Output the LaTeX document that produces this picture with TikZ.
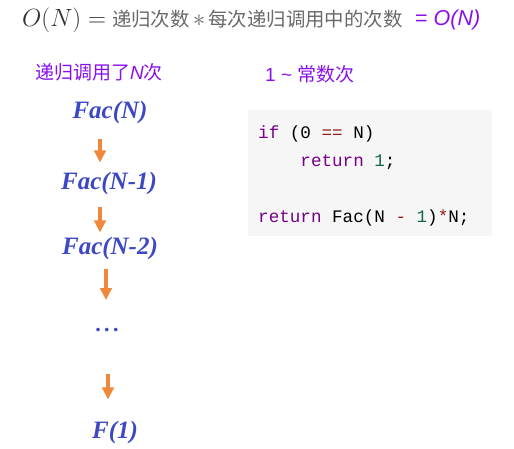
\documentclass[tikz,border=0pt]{standalone}
\usepackage{fontspec}
\newfontfamily\cjk{Noto Sans CJK SC}
\newfontfamily\facfont{Liberation Serif}
\newfontfamily\sansfont{Liberation Sans}
\newfontfamily\codefont{Liberation Mono}
\usetikzlibrary{arrows.meta}
\definecolor{facblue}{RGB}{60,72,196}
\definecolor{floworange}{RGB}{240,136,60}
\definecolor{notepurple}{RGB}{138,16,232}
\definecolor{titlegray}{RGB}{105,105,105}
\definecolor{mathgray}{RGB}{50,50,50}
\definecolor{codebg}{RGB}{246,246,246}
\definecolor{kwpurple}{RGB}{119,0,136}
\definecolor{opred}{RGB}{152,26,26}
\definecolor{numgreen}{RGB}{17,102,68}
\tikzset{
  fac/.style={font=\fontsize{25}{30}\selectfont\facfont\bfseries\itshape,text=facblue,inner sep=0pt},
  note/.style={font=\fontsize{19}{23}\selectfont\cjk,text=notepurple,inner sep=0pt,anchor=west},
  codeline/.style={font=\fontsize{17.6}{21}\selectfont\codefont,inner sep=0pt,anchor=base west},
  flow/.style={draw=floworange,line width=3.4pt,-{Triangle[length=12pt,width=11.5pt]}}
}
\newcommand{\kw}[1]{\textcolor{kwpurple}{#1}}
\newcommand{\op}[1]{\textcolor{opred}{#1}}
\newcommand{\num}[1]{\textcolor{numgreen}{#1}}
\begin{document}
\begin{tikzpicture}[x=1pt,y=-1pt]
  \useasboundingbox (0,0) rectangle (514,449);
  \node[inner sep=0pt,anchor=west,font=\fontsize{23}{27}\selectfont] (title) at (22,20)
    {\textcolor{mathgray}{$O(N) =$}\hspace{6pt}\textcolor{titlegray}{\fontsize{19.4}{23}\selectfont\cjk 递归次数\,{\fontsize{26}{30}\selectfont$\ast$}\,每次递归调用中的次数}};
  \node[note,font=\fontsize{21.5}{25}\selectfont\sansfont] (result) at (415,20) {= \itshape O(N)};
  \node[note] (calls) at (35,72) {递归调用了{\sansfont\itshape N}次};
  \node[note] (const) at (265,74) {{\sansfont 1 \textasciitilde{} }常数次};
  \fill[codebg] (248,110) rectangle (492,236);
  \node[codeline] (code1) at (258,139) {\kw{if} (0 \op{==} N)};
  \node[codeline] (code2) at (258,167) {\phantom{xxxx}\kw{return} \num{1};};
  \node[codeline] (code3) at (258,223) {\kw{return} Fac(N \op{-} \num{1})\op{*}N;};
  \node[fac] (facN) at (110,112) {Fac(N)};
  \node[fac] (facN1) at (109,183) {Fac(N-1)};
  \node[fac] (facN2) at (110,248) {Fac(N-2)};
  \node[fac,font=\fontsize{22}{26}\selectfont\facfont\bfseries] (dots) at (107,330) {.\hspace{3.5pt}.\hspace{3.5pt}.};
  \node[fac] (fone) at (115,432) {F(1)};
  \draw[flow,shorten <=15pt,shorten >=9pt] ([xshift=-10pt]facN.south) -- ([xshift=-9pt]facN1.north);
  \draw[flow,shorten <=12pt,shorten >=4pt] ([xshift=-9pt]facN1.south) -- ([xshift=-10pt]facN2.north);
  \draw[flow,shorten <=9pt,shorten >=28pt] ([xshift=-4pt]facN2.south) -- ([xshift=-1pt]dots.north);
  \draw[flow,shorten <=42pt,shorten >=21pt] ([xshift=1pt]dots.south) -- ([xshift=-7pt]fone.north);
\end{tikzpicture}
\end{document}
